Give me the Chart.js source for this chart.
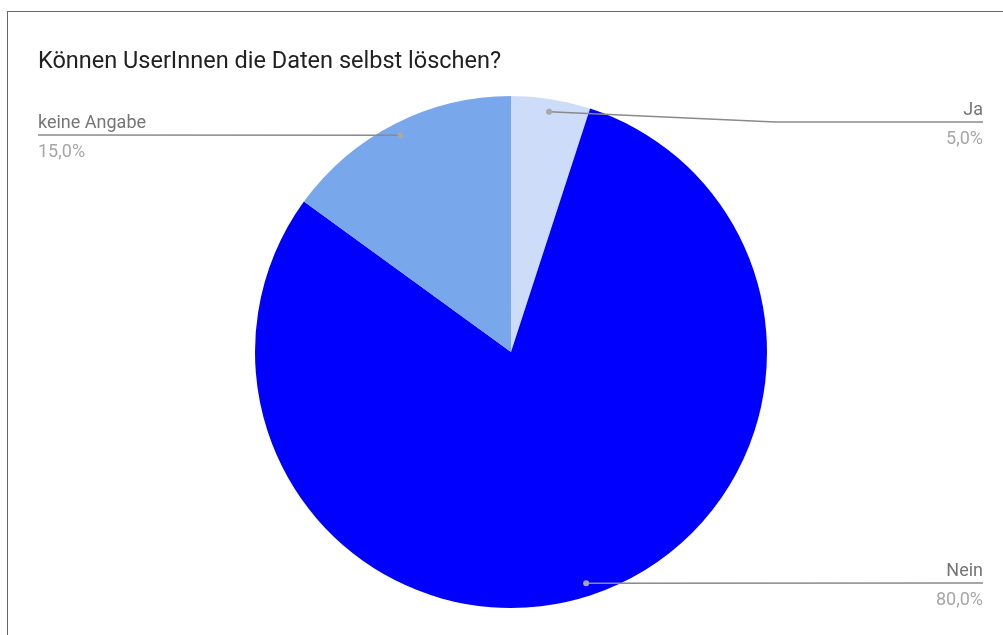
<!DOCTYPE html>
<html>
<head>
<meta charset="utf-8">
<script src="https://cdn.jsdelivr.net/npm/chart.js@4.4.1/dist/chart.umd.min.js"></script>
<style>
    html, body { margin: 0; padding: 0; background: #fff; }
    #wrap { position: relative; width: 1003px; height: 635px; }
    #frame {
        position: absolute; left: 7px; top: 11px; right: 0; bottom: 0;
        border-top: 1px solid #666; border-left: 1px solid #666;
        pointer-events: none;
    }
</style>
</head>
<body>
<div id="wrap">
    <canvas id="pie_chart" width="1003" height="635"></canvas>
    <div id="frame"></div>
</div>
<script>
const ctx = document.getElementById('pie_chart');

// data (Anteile in %)
const categories = ['Ja', 'Nein', 'keine Angabe'];
const values = [5, 80, 15];
const percentLabels = ['5,0%', '80,0%', '15,0%'];
const sliceColors = ['#cddcf8', '#0000ff', '#79a7ec'];

// Beschriftungen mit Verbindungslinien
const calloutPlugin = {
    id: 'callouts',
    afterDraw(chart) {
        const c = chart.ctx;
        const meta = chart.getDatasetMeta(0);
        const leftX = 38, rightX = 983;
        c.save();
        meta.data.forEach((arc, i) => {
            const p = arc.getProps(['x', 'y', 'startAngle', 'endAngle', 'outerRadius'], true);
            const mid = (p.startAngle + p.endAngle) / 2;
            const dx = p.x + Math.cos(mid) * p.outerRadius * 0.95;
            const dy = p.y + Math.sin(mid) * p.outerRadius * 0.95;
            const right = Math.cos(mid) >= 0;
            const lineY = Math.max(Math.round(dy), 122);
            const endX = right ? rightX : leftX;
            const elbowX = right ? p.x + p.outerRadius + 8 : p.x - p.outerRadius - 8;

            c.strokeStyle = '#8a8a8a';
            c.lineWidth = 1.5;
            c.beginPath();
            c.moveTo(dx, dy);
            if (Math.abs(lineY - dy) > 2) c.lineTo(elbowX, lineY);
            c.lineTo(endX, lineY);
            c.stroke();

            c.fillStyle = '#a8a8a8';
            c.beginPath();
            c.arc(dx, dy, 3, 0, Math.PI * 2);
            c.fill();

            c.font = '18px Roboto';
            c.textAlign = right ? 'right' : 'left';
            c.textBaseline = 'alphabetic';
            c.fillStyle = '#757575';
            c.fillText(categories[i], endX, lineY - 7);
            c.fillStyle = '#a6a6a6';
            c.fillText(percentLabels[i], endX, lineY + 22);
        });
        c.restore();
    }
};

let chart = new Chart(ctx, {
    type: 'pie',
    data: {
        labels: categories,
        datasets: [{
            data: values,
            backgroundColor: sliceColors,
            borderWidth: 0,
            hoverOffset: 0
        }]
    },
    options: {
        responsive: false,
        animation: false,
        layout: {
            padding: { left: 38, right: 19, top: 0, bottom: 27 }
        },
        plugins: {
            legend: { display: false },
            tooltip: { enabled: false },
            title: {
                display: true,
                text: 'Können UserInnen die Daten selbst löschen?',
                align: 'start',
                color: '#212121',
                font: { family: 'Roboto', size: 23.5, weight: 'normal', lineHeight: 1.2 },
                padding: { top: 48, bottom: 19.8 }
            }
        }
    },
    plugins: [calloutPlugin]
});
</script>
</body>
</html>
